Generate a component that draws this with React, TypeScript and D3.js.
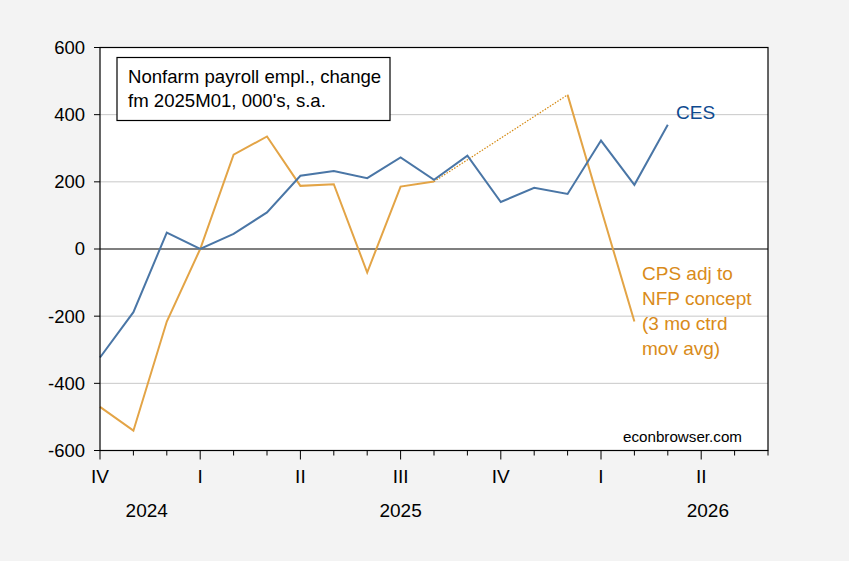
import React, { useEffect, useRef } from "react";
import * as d3 from "d3";

// months from 2024M10 to 2026M06 (index 0..20)
const months = [
  "2024-10", "2024-11", "2024-12",
  "2025-01", "2025-02", "2025-03", "2025-04", "2025-05", "2025-06",
  "2025-07", "2025-08", "2025-09", "2025-10", "2025-11", "2025-12",
  "2026-01", "2026-02", "2026-03", "2026-04", "2026-05", "2026-06",
];

// CES, change from 2025M01 (000s)
const cesValues: (number | null)[] = [
  -323, -188, 49, 0, 45, 109, 218, 232, 211, 273, 206, 278, 140, 182, 164, 323, 191, 370,
];

// CPS adjusted to NFP concept, 3 mo centered moving average (missing Sep-Nov 2025)
const cpsValues: (number | null)[] = [
  -470, -541, -216, 0, 281, 335, 188, 193, -70, 186, 201, null, null, null, 459, 120, -216,
];

// dotted bridge across missing months
const cpsBridge = [
  { month: "2025-08", value: 201 },
  { month: "2025-12", value: 459 },
];

const yTicks = [-600, -400, -200, 0, 200, 400, 600];
const gridValues = [-400, -200, 200, 400];
const quarterLabels = [
  { month: "2024-10", label: "IV" },
  { month: "2025-01", label: "I" },
  { month: "2025-04", label: "II" },
  { month: "2025-07", label: "III" },
  { month: "2025-10", label: "IV" },
  { month: "2026-01", label: "I" },
  { month: "2026-04", label: "II" },
];
const yearLabels = [
  { pos: 1.4, label: "2024" },
  { pos: 9, label: "2025" },
  { pos: 18.2, label: "2026" },
];

export default function App() {
  const svgRef = useRef<SVGSVGElement | null>(null);

  useEffect(() => {
    if (!svgRef.current) return;
    const svg = d3.select(svgRef.current);
    svg.selectAll("*").remove();

    const width = 849;
    const height = 561;
    const left = 100;
    const right = 768;
    const top = 47.5;
    const bottom = 450.5;
    const font = "Arial, 'Liberation Sans', sans-serif";

    const x = d3.scaleLinear().domain([0, months.length - 1]).range([left, right]);
    const y = d3.scaleLinear().domain([-600, 600]).range([bottom, top]);
    const mi = (m: string) => months.indexOf(m);

    svg.append("rect").attr("width", width).attr("height", height).attr("fill", "#f3f3f3");
    svg
      .append("rect")
      .attr("x", left)
      .attr("y", top)
      .attr("width", right - left)
      .attr("height", bottom - top)
      .attr("fill", "#ffffff");

    // grid
    svg
      .selectAll(".grid")
      .data(gridValues)
      .enter()
      .append("line")
      .attr("x1", left)
      .attr("x2", right)
      .attr("y1", (d) => y(d))
      .attr("y2", (d) => y(d))
      .attr("stroke", "#c8c8c8")
      .attr("stroke-width", 1);

    svg
      .append("line")
      .attr("x1", left)
      .attr("x2", right)
      .attr("y1", y(0))
      .attr("y2", y(0))
      .attr("stroke", "#000")
      .attr("stroke-width", 1.2);

    // lines
    const line = d3
      .line<number | null>()
      .defined((d) => d !== null)
      .x((_, i) => x(i))
      .y((d) => y(d as number));

    svg
      .append("path")
      .datum(cpsBridge)
      .attr("fill", "none")
      .attr("stroke", "#d4880f")
      .attr("stroke-width", 1.2)
      .attr("stroke-dasharray", "1.5,1.5")
      .attr(
        "d",
        d3
          .line<{ month: string; value: number }>()
          .x((d) => x(mi(d.month)))
          .y((d) => y(d.value))
      );

    svg
      .append("path")
      .datum(cpsValues)
      .attr("fill", "none")
      .attr("stroke", "#e3a446")
      .attr("stroke-width", 2)
      .attr("d", line);

    svg
      .append("path")
      .datum(cesValues)
      .attr("fill", "none")
      .attr("stroke", "#4a76a6")
      .attr("stroke-width", 2)
      .attr("d", line);

    // frame
    svg
      .append("rect")
      .attr("x", left)
      .attr("y", top)
      .attr("width", right - left)
      .attr("height", bottom - top)
      .attr("fill", "none")
      .attr("stroke", "#000")
      .attr("stroke-width", 1.2);

    // y axis
    const yAxis = svg.append("g").attr("font-family", font);
    yTicks.forEach((t) => {
      yAxis
        .append("line")
        .attr("x1", left - 6)
        .attr("x2", left)
        .attr("y1", y(t))
        .attr("y2", y(t))
        .attr("stroke", "#000");
      yAxis
        .append("text")
        .attr("x", left - 15)
        .attr("y", y(t))
        .attr("dy", "0.35em")
        .attr("text-anchor", "end")
        .attr("font-size", 18.5)
        .attr("fill", "#000")
        .text(t);
    });

    // x axis ticks
    const xAxis = svg.append("g").attr("font-family", font);
    months.forEach((m, i) => {
      const major = quarterLabels.some((q) => q.month === m);
      xAxis
        .append("line")
        .attr("x1", x(i))
        .attr("x2", x(i))
        .attr("y1", bottom)
        .attr("y2", bottom + (major ? 9 : 5))
        .attr("stroke", "#000");
    });
    quarterLabels.forEach((q) => {
      xAxis
        .append("text")
        .attr("x", x(mi(q.month)))
        .attr("y", 483)
        .attr("text-anchor", "middle")
        .attr("font-size", 19)
        .attr("fill", "#000")
        .text(q.label);
    });
    yearLabels.forEach((yl) => {
      xAxis
        .append("text")
        .attr("x", x(yl.pos))
        .attr("y", 517)
        .attr("text-anchor", "middle")
        .attr("font-size", 19)
        .attr("fill", "#000")
        .text(yl.label);
    });

    // title box
    svg
      .append("rect")
      .attr("x", 117)
      .attr("y", 57.5)
      .attr("width", 273)
      .attr("height", 63)
      .attr("fill", "#fff")
      .attr("stroke", "#000")
      .attr("stroke-width", 1.2);
    const title = svg
      .append("text")
      .attr("font-family", font)
      .attr("font-size", 18.6)
      .attr("fill", "#000");
    title.append("tspan").attr("x", 128).attr("y", 83).text("Nonfarm payroll empl., change");
    title.append("tspan").attr("x", 128).attr("y", 107).text("fm 2025M01, 000's, s.a.");

    // series labels
    svg
      .append("text")
      .attr("x", 676)
      .attr("y", 118.5)
      .attr("font-family", font)
      .attr("font-size", 19)
      .attr("fill", "#0e4a8f")
      .text("CES");

    const cps = svg
      .append("text")
      .attr("font-family", font)
      .attr("font-size", 19)
      .attr("fill", "#d98b1a");
    ["CPS adj to", "NFP concept", "(3 mo ctrd", "mov avg)"].forEach((s, i) => {
      cps
        .append("tspan")
        .attr("x", 642)
        .attr("y", 279.5 + i * 25.3)
        .text(s);
    });

    svg
      .append("text")
      .attr("x", 742)
      .attr("y", 442)
      .attr("text-anchor", "end")
      .attr("font-family", font)
      .attr("font-size", 15.2)
      .attr("fill", "#000")
      .text("econbrowser.com");
  }, []);

  return (
    <svg
      ref={svgRef}
      width={849}
      height={561}
      style={{ position: "absolute", left: 0, top: 0, display: "block" }}
    />
  );
}
